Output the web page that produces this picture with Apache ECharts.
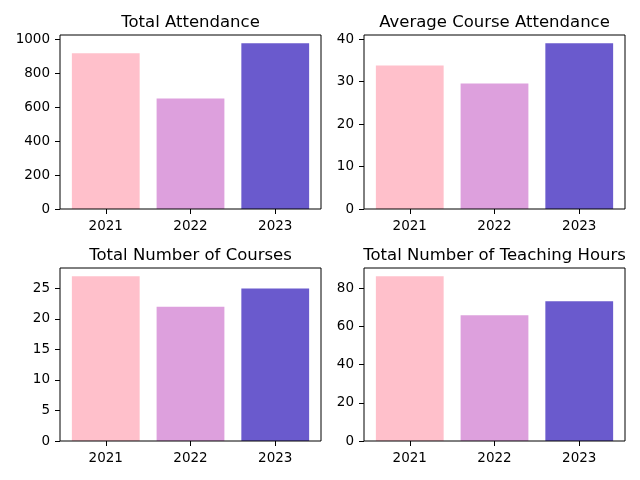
<!DOCTYPE html>
<html><head><meta charset="utf-8">
<script src="https://cdn.jsdelivr.net/npm/echarts@6/dist/echarts.min.js"></script>
<style>html,body{margin:0;padding:0;background:#fff}#c{width:640px;height:480px}</style>
</head><body><div id="c"></div>
<script>
const years = ['2021', '2022', '2023'];
const totalAttendance = [917, 651, 976];
const avgAttendance = [33.8, 29.6, 39.05];
const totalCourses = [27, 22, 25];
const teachingHours = [86.4, 66, 73.3];
const titles = ['Total Attendance', 'Average Course Attendance', 'Total Number of Courses', 'Total Number of Teaching Hours'];
const yIntervals = [200, 10, 5, 20];
const colors = ['#FFC0CB', '#DDA0DD', '#6A5ACD'];

const panels = [totalAttendance, avgAttendance, totalCourses, teachingHours];
const frames = [
  {left: 60, right: 319, top: 35, bottom: 271},
  {left: 364, right: 15, top: 35, bottom: 271},
  {left: 60, right: 319, top: 268, bottom: 39},
  {left: 364, right: 15, top: 268, bottom: 39}
];
// matplotlib default x margins: bars span -0.4..2.4, plus 5% each side
const inset = 261 * (1 - 3 / 3.08) / 2;
const font = 'DejaVu Sans';
const gridsAll = [];
frames.forEach(g => gridsAll.push({left: g.left + inset, right: g.right + inset, top: g.top, bottom: g.bottom}));
frames.forEach(g => gridsAll.push(Object.assign({show: true, borderColor: '#000', borderWidth: 1, z: 5}, g)));
const xAxes = frames.map((g, i) => ({
  type: 'category', gridIndex: i, data: years,
  axisLine: {show: false},
  axisTick: {show: true, alignWithLabel: true, length: 5, lineStyle: {color: '#000'}},
  axisLabel: {margin: 10.5, fontFamily: font, fontSize: 13.5, color: '#000'}
}));
const yAxes = frames.map((g, i) => {
  const iv = yIntervals[i];
  return {
    type: 'value', gridIndex: i, min: 0, max: Math.max(...panels[i]) * 1.05, interval: iv,
    offset: inset,
    splitLine: {show: false},
    axisLine: {show: false},
    axisTick: {show: true, length: 5, lineStyle: {color: '#000'}},
    axisLabel: {margin: 10, fontFamily: font, fontSize: 13.5, color: '#000', showMaxLabel: false,
      formatter: v => (Math.abs(v / iv - Math.round(v / iv)) < 1e-6 ? String(Math.round(v)) : '')}
  };
});
frames.forEach((g, i) => {
  xAxes.push({type: 'value', gridIndex: 4 + i, show: false, min: 0, max: 1});
  yAxes.push({type: 'value', gridIndex: 4 + i, show: false, min: 0, max: 1});
});
const option = {
  animation: false,
  backgroundColor: '#fff',
  title: frames.map((g, i) => ({
    text: titles[i],
    left: g.left + (640 - g.left - g.right) / 2,
    textAlign: 'center',
    top: g.top - 21,
    padding: 0,
    textStyle: {fontFamily: font, fontSize: 16.5, fontWeight: 'normal', color: '#000'}
  })),
  grid: gridsAll,
  xAxis: xAxes,
  yAxis: yAxes,
  series: panels.map((vals, i) => ({
    type: 'bar', xAxisIndex: i, yAxisIndex: i,
    barWidth: '80%',
    itemStyle: {borderWidth: 0},
    data: vals.map((v, j) => ({value: v, itemStyle: {color: colors[j], borderWidth: 0}}))
  }))
};
const chart = echarts.init(document.getElementById('c'), null, {renderer: 'canvas'});
chart.setOption(option);
</script></body></html>
